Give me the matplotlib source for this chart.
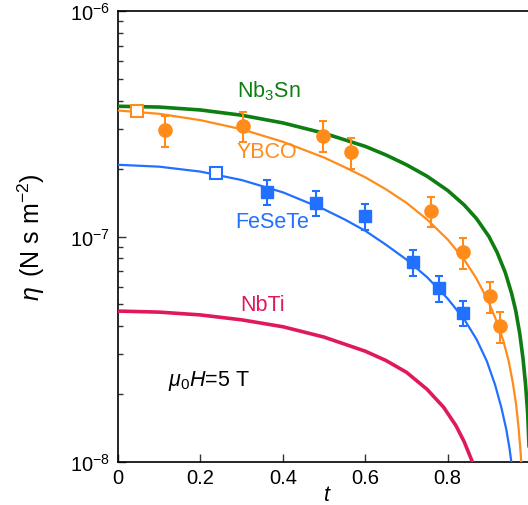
import matplotlib
matplotlib.use("Agg")
import matplotlib.pyplot as plt
from matplotlib.ticker import LogLocator, FixedLocator, NullFormatter

plt.rcParams['font.family'] = ['Liberation Sans', 'DejaVu Sans']
plt.rcParams['mathtext.fontset'] = 'custom'
plt.rcParams['mathtext.rm'] = 'Liberation Sans'
plt.rcParams['mathtext.it'] = 'Liberation Sans:italic'

# fitted curves (t, eta in N s m^-2)
nb3sn_t = [0, 0.1, 0.2, 0.3, 0.4, 0.5, 0.6, 0.65, 0.7, 0.75, 0.8, 0.84, 0.87, 0.9,
           0.92, 0.94, 0.955, 0.965, 0.975, 0.983, 0.989, 0.994, 0.998, 1.0]
nb3sn_eta = [3.78e-7, 3.75e-7, 3.64e-7, 3.45e-7, 3.19e-7, 2.87e-7, 2.51e-7, 2.3e-7,
             2.08e-7, 1.85e-7, 1.6e-7, 1.38e-7, 1.2e-7, 1.0e-7, 8.5e-8, 6.9e-8,
             5.6e-8, 4.7e-8, 3.7e-8, 2.85e-8, 2.2e-8, 1.65e-8, 1.1e-8, 7e-9]

ybco_t = [0, 0.1, 0.2, 0.3, 0.4, 0.5, 0.55, 0.6, 0.65, 0.7, 0.75, 0.8, 0.84, 0.87,
          0.9, 0.92, 0.935, 0.948, 0.958, 0.966, 0.972, 0.977, 0.981]
ybco_eta = [3.62e-7, 3.5e-7, 3.28e-7, 2.99e-7, 2.63e-7, 2.24e-7, 2.03e-7, 1.83e-7,
            1.62e-7, 1.41e-7, 1.19e-7, 9.7e-8, 7.9e-8, 6.5e-8, 5.1e-8, 4.15e-8,
            3.45e-8, 2.8e-8, 2.25e-8, 1.8e-8, 1.42e-8, 1.1e-8, 8.5e-9]

fesete_t = [0, 0.1, 0.2, 0.3, 0.4, 0.5, 0.55, 0.6, 0.65, 0.7, 0.75, 0.8, 0.84,
            0.87, 0.895, 0.915, 0.93, 0.942, 0.95, 0.956]
fesete_eta = [2.08e-7, 2.04e-7, 1.94e-7, 1.78e-7, 1.57e-7, 1.32e-7, 1.19e-7, 1.06e-7,
              9.2e-8, 7.9e-8, 6.6e-8, 5.3e-8, 4.3e-8, 3.5e-8, 2.8e-8, 2.2e-8,
              1.75e-8, 1.4e-8, 1.15e-8, 9.5e-9]

nbti_t = [0, 0.1, 0.2, 0.3, 0.4, 0.5, 0.6, 0.65, 0.7, 0.75, 0.79, 0.82, 0.84,
          0.86, 0.87]
nbti_eta = [4.67e-8, 4.62e-8, 4.49e-8, 4.27e-8, 3.98e-8, 3.58e-8, 3.1e-8, 2.82e-8,
            2.5e-8, 2.1e-8, 1.75e-8, 1.45e-8, 1.23e-8, 1.0e-8, 9e-9]

# measured points
ybco_open_t = [0.046]
ybco_open_eta = [3.6e-7]
ybco_pt_t = [0.115, 0.304, 0.498, 0.566, 0.759, 0.837, 0.903, 0.927]
ybco_pt_eta = [2.96e-7, 3.1e-7, 2.8e-7, 2.37e-7, 1.3e-7, 8.5e-8, 5.45e-8, 4.0e-8]
ybco_pt_err = [0.46e-7, 0.48e-7, 0.44e-7, 0.37e-7, 0.2e-7, 1.3e-8, 0.85e-8, 0.63e-8]

fesete_open_t = [0.239]
fesete_open_eta = [1.91e-7]
fesete_pt_t = [0.361, 0.480, 0.600, 0.717, 0.778, 0.837]
fesete_pt_eta = [1.58e-7, 1.41e-7, 1.23e-7, 7.7e-8, 5.9e-8, 4.6e-8]
fesete_pt_err = [0.2e-7, 0.18e-7, 0.16e-7, 1.0e-8, 0.76e-8, 0.6e-8]

GREEN = '#0e7d12'
ORANGE = '#ff8c1a'
BLUE = '#2170ff'
CRIMSON = '#e0195a'

fig = plt.figure(figsize=(5.28, 5.06), dpi=100)
ax = fig.add_axes([118 / 528, 1 - 463 / 506, 1 - 118 / 528 + 0.004, (463 - 12) / 506])

ax.plot(nb3sn_t, nb3sn_eta, color=GREEN, lw=2.6, zorder=3)
ax.plot(nbti_t, nbti_eta, color=CRIMSON, lw=2.6, zorder=3)
ax.plot(ybco_t, ybco_eta, color=ORANGE, lw=1.6, zorder=3)
ax.plot(fesete_t, fesete_eta, color=BLUE, lw=1.6, zorder=3)

ax.errorbar(ybco_pt_t, ybco_pt_eta, yerr=ybco_pt_err, fmt='o', color=ORANGE,
            ms=9.5, elinewidth=1.5, capsize=3, capthick=1.5, zorder=4)
ax.plot(ybco_open_t, ybco_open_eta, 's', mfc='white', mec=ORANGE, mew=1.5, ms=9, zorder=5)
ax.errorbar(fesete_pt_t, fesete_pt_eta, yerr=fesete_pt_err, fmt='s', color=BLUE,
            ms=9, elinewidth=1.5, capsize=3, capthick=1.5, zorder=4)
ax.plot(fesete_open_t, fesete_open_eta, 's', mfc='white', mec=BLUE, mew=1.5, ms=9, zorder=5)

ax.set_yscale('log')
ax.set_xlim(0, 1.0)
ax.set_ylim(1e-8, 1e-6)

ax.xaxis.set_major_locator(FixedLocator([0, 0.2, 0.4, 0.6, 0.8]))
ax.set_xticklabels(['0', '0.2', '0.4', '0.6', '0.8'])
ax.yaxis.set_major_locator(FixedLocator([1e-8, 1e-7, 1e-6]))
ax.set_yticklabels([r'$\mathregular{10^{-8}}$', r'$\mathregular{10^{-7}}$',
                    r'$\mathregular{10^{-6}}$'])
ax.yaxis.set_minor_locator(LogLocator(base=10, subs=range(2, 10)))
ax.yaxis.set_minor_formatter(NullFormatter())

ax.tick_params(which='both', direction='in', labelsize=14.5, width=1, color='#333333')
ax.tick_params(which='major', length=6)
ax.tick_params(which='minor', length=3.5)
ax.tick_params(axis='x', pad=4)
ax.tick_params(axis='y', pad=6)
for s in ax.spines.values():
    s.set_linewidth(1.2)
ax.spines['right'].set_visible(False)

ax.set_xlabel('t', style='italic', fontsize=15.5)
ax.xaxis.set_label_coords(0.505, -0.048)
ax.set_ylabel(r'$\eta\,$ (N s m$^{\mathregular{-2}}$)', fontsize=18, labelpad=16)

ax.text(0.366, 3.95e-7, r'Nb$_{\mathregular{3}}$Sn', color=GREEN, fontsize=15.5,
        ha='center', va='bottom')
ax.text(0.362, 2.38e-7, 'YBCO', color=ORANGE, fontsize=15.5, ha='center', va='center')
ax.text(0.375, 1.17e-7, 'FeSeTe', color=BLUE, fontsize=15.5, ha='center', va='center')
ax.text(0.35, 5.0e-8, 'NbTi', color=CRIMSON, fontsize=15.5, ha='center', va='center')
ax.text(0.22, 2.31e-8, r'$\mu_0H$=5 T', color='black', fontsize=15.5, ha='center',
        va='center')

fig.savefig('out.png', dpi=100)
